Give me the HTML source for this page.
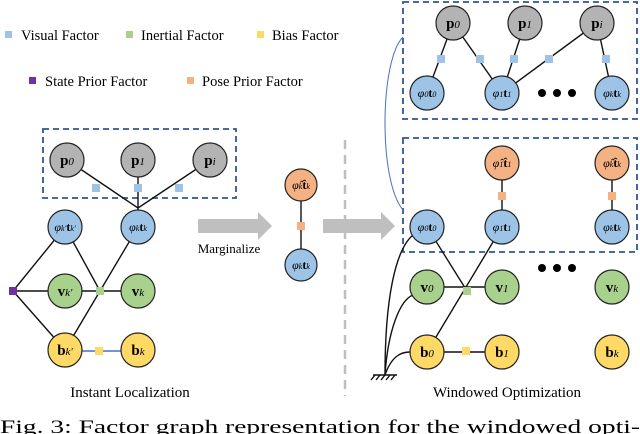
<!DOCTYPE html>
<html><head><style>
body{margin:0;background:#fff;}
svg{display:block;font-family:"Liberation Serif",serif;}
.n{stroke:#222;stroke-width:1.2}
.l{stroke:#111;stroke-width:1.4;fill:none}
.t{font-size:15px;font-weight:bold;text-anchor:middle}
.s{font-size:11px;font-weight:normal;font-style:italic}
.lg{font-size:14.5px}
</style></head><body>
<svg width="640" height="434" viewBox="0 0 640 434">
<!-- legend -->
<rect x="5" y="31" width="7" height="7" fill="#9dc3e6"/><text class="lg" x="21" y="40">Visual Factor</text>
<rect x="126" y="31" width="7" height="7" fill="#a9d18e"/><text class="lg" x="141" y="40">Inertial Factor</text>
<rect x="257" y="31" width="7" height="7" fill="#ffd966"/><text class="lg" x="272" y="40">Bias Factor</text>
<rect x="29" y="77" width="7" height="7" fill="#7030a0"/><text class="lg" x="45" y="86">State Prior Factor</text>
<rect x="187" y="77" width="7" height="7" fill="#f4b183"/><text class="lg" x="202" y="86">Pose Prior Factor</text>

<!-- LEFT -->
<rect x="43" y="129" width="193" height="69" fill="none" stroke="#2f5597" stroke-width="1.8" stroke-dasharray="6,4"/>
<g class="l">
<line x1="67" y1="160" x2="138" y2="208"/><line x1="138" y1="160" x2="138" y2="227"/><line x1="210" y1="160" x2="138" y2="208"/>
<line x1="13" y1="291" x2="65" y2="227"/><line x1="13" y1="291" x2="65" y2="291"/><line x1="13" y1="291" x2="65" y2="350"/>
<line x1="65" y1="227" x2="100" y2="291"/><line x1="138" y1="227" x2="65" y2="350"/>
<line x1="65" y1="291" x2="138" y2="291"/>
</g>
<line x1="65" y1="351" x2="138" y2="351" stroke="#4472c4" stroke-width="1.4"/>
<rect x="92" y="184" width="8" height="8" fill="#9dc3e6"/><rect x="134" y="184" width="8" height="8" fill="#9dc3e6"/><rect x="175" y="184" width="8" height="8" fill="#9dc3e6"/>
<rect x="96" y="287" width="8" height="8" fill="#a9d18e"/><rect x="9" y="287" width="8" height="8" fill="#7030a0"/>
<rect x="95" y="347" width="8" height="8" fill="#ffd966"/>
<g class="n">
<circle cx="67" cy="160" r="17" fill="#b3b3b3"/><circle cx="138" cy="160" r="17" fill="#b3b3b3"/><circle cx="210" cy="160" r="17" fill="#b3b3b3"/>
<circle cx="65" cy="227" r="17" fill="#9dc3e6"/><circle cx="138" cy="227" r="17" fill="#9dc3e6"/>
<circle cx="65" cy="291" r="17" fill="#a9d18e"/><circle cx="138" cy="291" r="17" fill="#a9d18e"/>
<circle cx="65" cy="350" r="17" fill="#ffd966"/><circle cx="138" cy="350" r="17" fill="#ffd966"/>
</g>
<text class="t" x="67" y="165">p<tspan class="s">0</tspan></text><text class="t" x="138" y="165">p<tspan class="s">1</tspan></text><text class="t" x="210" y="165">p<tspan class="s">i</tspan></text>
<text class="t" x="65" y="231" style="font-size:12px"><tspan font-style="italic" font-weight="normal">φ</tspan><tspan class="s" style="font-size:8px">k'</tspan>t<tspan class="s" style="font-size:8px">k'</tspan></text>
<text class="t" x="138" y="231" style="font-size:12px"><tspan font-style="italic" font-weight="normal">φ</tspan><tspan class="s" style="font-size:8px">k</tspan>t<tspan class="s" style="font-size:8px">k</tspan></text>
<text class="t" x="65" y="296">v<tspan class="s">k'</tspan></text><text class="t" x="138" y="296">v<tspan class="s">k</tspan></text>
<text class="t" x="65" y="355">b<tspan class="s">k'</tspan></text><text class="t" x="138" y="355">b<tspan class="s">k</tspan></text>
<text x="130" y="397" font-size="15" text-anchor="middle">Instant Localization</text>

<!-- arrows -->
<polygon points="198,219 258,219 258,212 272,226 258,240 258,233 198,233" fill="#bfbfbf"/>
<text x="229" y="253" font-size="13" text-anchor="middle">Marginalize</text>
<polygon points="323,219 381,219 381,212 395,226 381,240 381,233 323,233" fill="#bfbfbf"/>
<line x1="345" y1="140" x2="345" y2="396" stroke="#bfbfbf" stroke-width="2.5" stroke-dasharray="9,6"/>
<line x1="301" y1="185" x2="301" y2="265" class="l"/>
<rect x="297" y="222" width="8" height="8" fill="#f4b183"/>
<circle class="n" cx="301" cy="185" r="16" fill="#f4b183"/><circle class="n" cx="301" cy="265" r="16" fill="#9dc3e6"/>
<text class="t" x="301" y="189" style="font-size:12px"><tspan font-style="italic" font-weight="normal">φ̂</tspan><tspan class="s" style="font-size:8px">k</tspan>t̂<tspan class="s" style="font-size:8px">k</tspan></text>
<text class="t" x="301" y="269" style="font-size:12px"><tspan font-style="italic" font-weight="normal">φ</tspan><tspan class="s" style="font-size:8px">k</tspan>t<tspan class="s" style="font-size:8px">k</tspan></text>

<!-- RIGHT -->
<rect x="403" y="2" width="234" height="117" fill="none" stroke="#2f5597" stroke-width="1.8" stroke-dasharray="6,4"/>
<rect x="403" y="138" width="234" height="114" fill="none" stroke="#2f5597" stroke-width="1.8" stroke-dasharray="6,4"/>
<path d="M403,37 C380,60 378,180 403,210" stroke="#4472c4" stroke-width="1" fill="none"/>
<g class="l">
<line x1="453" y1="23" x2="427" y2="93"/><line x1="453" y1="23" x2="502" y2="93"/><line x1="525" y1="23" x2="502" y2="93"/>
<line x1="597" y1="23" x2="502" y2="93"/><line x1="597" y1="23" x2="612" y2="93"/>
<line x1="502" y1="163" x2="502" y2="227"/><line x1="612" y1="163" x2="612" y2="227"/>
<line x1="427" y1="227" x2="467" y2="291"/><line x1="502" y1="227" x2="427" y2="352"/>
<line x1="427" y1="287" x2="502" y2="287"/><line x1="427" y1="352" x2="502" y2="352"/>
<path d="M385,375 C385,300 395,250 413,235"/><path d="M385,375 C388,330 400,300 413,295"/><path d="M385,375 C392,355 402,352 410,352"/>
<line x1="373" y1="375" x2="397" y2="375"/>
<path d="M375,375 l-4,5 M380,375 l-4,5 M385,375 l-4,5 M390,375 l-4,5 M395,375 l-4,5"/>
</g>
<g fill="#9dc3e6"><rect x="437" y="55" width="8" height="8"/><rect x="476" y="55" width="8" height="8"/><rect x="510" y="55" width="8" height="8"/><rect x="545" y="55" width="8" height="8"/><rect x="602" y="55" width="8" height="8"/></g>
<rect x="498" y="192" width="8" height="8" fill="#f4b183"/><rect x="608" y="192" width="8" height="8" fill="#f4b183"/>
<rect x="463" y="287" width="8" height="8" fill="#a9d18e"/><rect x="462" y="347" width="8" height="8" fill="#ffd966"/>
<g class="n">
<circle cx="453" cy="23" r="17" fill="#b3b3b3"/><circle cx="525" cy="23" r="17" fill="#b3b3b3"/><circle cx="597" cy="23" r="17" fill="#b3b3b3"/>
<circle cx="427" cy="93" r="17" fill="#9dc3e6"/><circle cx="502" cy="93" r="17" fill="#9dc3e6"/><circle cx="612" cy="93" r="17" fill="#9dc3e6"/>
<circle cx="502" cy="163" r="17" fill="#f4b183"/><circle cx="612" cy="163" r="17" fill="#f4b183"/>
<circle cx="427" cy="227" r="17" fill="#9dc3e6"/><circle cx="502" cy="227" r="17" fill="#9dc3e6"/><circle cx="612" cy="227" r="17" fill="#9dc3e6"/>
<circle cx="427" cy="287" r="17" fill="#a9d18e"/><circle cx="502" cy="287" r="17" fill="#a9d18e"/><circle cx="612" cy="287" r="17" fill="#a9d18e"/>
<circle cx="427" cy="352" r="17" fill="#ffd966"/><circle cx="502" cy="352" r="17" fill="#ffd966"/><circle cx="612" cy="352" r="17" fill="#ffd966"/>
</g>
<g fill="#000"><circle cx="542" cy="93" r="4"/><circle cx="557" cy="93" r="4"/><circle cx="572" cy="93" r="4"/>
<circle cx="542" cy="268" r="4"/><circle cx="557" cy="268" r="4"/><circle cx="572" cy="268" r="4"/></g>
<text class="t" x="453" y="28">p<tspan class="s">0</tspan></text><text class="t" x="525" y="28">p<tspan class="s">1</tspan></text><text class="t" x="597" y="28">p<tspan class="s">i</tspan></text>
<g style="font-size:12px">
<text class="t" x="427" y="97" style="font-size:12px"><tspan font-style="italic" font-weight="normal">φ</tspan><tspan class="s" style="font-size:8px">0</tspan>t<tspan class="s" style="font-size:8px">0</tspan></text>
<text class="t" x="502" y="97" style="font-size:12px"><tspan font-style="italic" font-weight="normal">φ</tspan><tspan class="s" style="font-size:8px">1</tspan>t<tspan class="s" style="font-size:8px">1</tspan></text>
<text class="t" x="612" y="97" style="font-size:12px"><tspan font-style="italic" font-weight="normal">φ</tspan><tspan class="s" style="font-size:8px">k</tspan>t<tspan class="s" style="font-size:8px">k</tspan></text>
<text class="t" x="502" y="167" style="font-size:12px"><tspan font-style="italic" font-weight="normal">φ̂</tspan><tspan class="s" style="font-size:8px">1</tspan>t̂<tspan class="s" style="font-size:8px">1</tspan></text>
<text class="t" x="612" y="167" style="font-size:12px"><tspan font-style="italic" font-weight="normal">φ̂</tspan><tspan class="s" style="font-size:8px">k</tspan>t̂<tspan class="s" style="font-size:8px">k</tspan></text>
<text class="t" x="427" y="231" style="font-size:12px"><tspan font-style="italic" font-weight="normal">φ</tspan><tspan class="s" style="font-size:8px">0</tspan>t<tspan class="s" style="font-size:8px">0</tspan></text>
<text class="t" x="502" y="231" style="font-size:12px"><tspan font-style="italic" font-weight="normal">φ</tspan><tspan class="s" style="font-size:8px">1</tspan>t<tspan class="s" style="font-size:8px">1</tspan></text>
<text class="t" x="612" y="231" style="font-size:12px"><tspan font-style="italic" font-weight="normal">φ</tspan><tspan class="s" style="font-size:8px">k</tspan>t<tspan class="s" style="font-size:8px">k</tspan></text>
</g>
<text class="t" x="427" y="292">v<tspan class="s">0</tspan></text><text class="t" x="502" y="292">v<tspan class="s">1</tspan></text><text class="t" x="612" y="292">v<tspan class="s">k</tspan></text>
<text class="t" x="427" y="357">b<tspan class="s">0</tspan></text><text class="t" x="502" y="357">b<tspan class="s">1</tspan></text><text class="t" x="612" y="357">b<tspan class="s">k</tspan></text>
<text x="507" y="397" font-size="15" text-anchor="middle">Windowed Optimization</text>

<text x="0" y="433" font-size="18.5" textLength="640" lengthAdjust="spacingAndGlyphs">Fig. 3: Factor graph representation for the windowed opti-</text>
</svg>
</body></html>
